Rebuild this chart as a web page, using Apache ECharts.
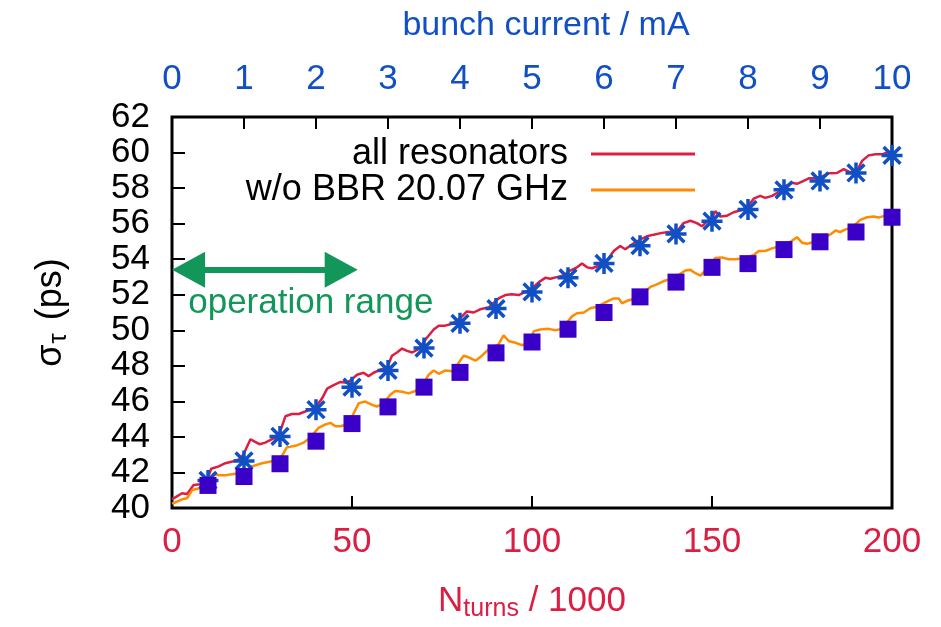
<!DOCTYPE html>
<html>
<head>
<meta charset="utf-8">
<script src="https://cdn.jsdelivr.net/npm/echarts@6/dist/echarts.min.js"></script>
<style>html,body{margin:0;padding:0;background:#fff;}#c{width:941px;height:627px;}</style>
</head>
<body>
<div id="c"></div>
<script>
// ---- data ----
const redTurns = [0,0.9,2.8,4.2,6,7.9,9.3,10.9,13,14.8,17.1,19,19.9,21.8,23.1,24.3,25.9,27.8,29.6,31.5,33.3,35.2,37,39.8,41.7,43.1,44.9,46.8,48.6,50,51.4,53.2,54.6,56,57.9,59.7,61.1,62.5,63.9,65.3,66.7,68.5,70.8,72.7,74.1,75.9,77.8,80.1,81.9,83.8,85.6,88,90.7,92.6,94.4,96.3,98.1,100,101.9,103.7,105.1,106.9,108.8,110.6,112.5,113.9,115.3,116.7,118.5,120.8,122.7,124.5,125.9,127.8,130.1,131.9,133.8,136.1,138,140.3,142.1,144,145.8,147.2,148.6,150,150.9,152.3,154.2,156,158.3,160.2,161.6,163.4,164.8,166.7,168.5,170.4,172.2,173.6,175,176.9,178.7,180.6,182.4,184.7,186.6,188.4,190.3,191.7,193.5,195.4,197.2,199.1,200];
const redSigma = [40.5,40.6,40.83,40.79,41.29,41.34,41.38,42.21,42.34,42.52,42.63,42.76,43.04,43.87,43.72,43.59,43.68,43.87,44.05,45.16,45.29,45.29,45.43,45.65,46.17,46.72,46.91,47.09,47.05,47.25,47.5,47.61,47.42,47.61,47.79,47.87,48.57,48.75,48.97,48.84,48.75,48.94,49.58,50.04,50.26,50.26,50.37,50.69,51.06,51.0,51.18,51.29,51.79,51.98,52.03,51.98,52.16,52.35,52.71,52.95,52.9,52.99,53.08,53.36,53.54,53.76,53.54,53.49,53.63,53.91,54.46,54.74,54.56,54.83,55.11,55.29,55.38,55.48,55.53,55.57,56.03,56.16,56.03,55.85,56.12,56.3,56.7,56.4,56.45,56.64,56.77,57.04,57.41,57.56,57.45,57.56,57.78,58.11,58.3,58.24,58.37,58.55,58.55,58.66,58.83,58.85,59.07,58.89,58.98,59.53,59.84,59.9,59.9,60.03,60.05];

const orangeTurns = [0,0.9,2.8,4.2,5.6,7.4,9.7,11.6,13,14.8,17.6,19.4,22.2,25,27.8,30.6,31.9,34.3,36.6,38.4,40.7,42.6,44,45.4,46.8,49.1,50.5,51.9,53.7,55.6,56.9,58.5,60.6,62,63.9,65.7,67.6,69.9,71.3,72.7,74.1,75.9,78,81,82.4,84.3,86.1,88,90.7,92.1,93.5,95.4,97.2,99.1,100.5,102.3,104.6,106.5,108.3,111.1,112.5,114.4,116.2,118.1,120.8,122.7,124.1,125,126.4,129,132.9,134.7,136.6,139,142.6,144,145.4,146.8,148.1,150.9,152.8,154.6,156.5,159,161.6,163,164.8,166.7,169,171.8,173.6,175,176.4,179,182.9,184.3,185.6,187,189,191.2,193.1,194.9,196.3,198.1,200];
const orangeSigma = [40.25,40.31,40.49,40.55,41.01,41.1,41.19,41.93,41.84,41.84,41.93,41.93,42.34,42.52,42.63,42.95,43.41,43.5,43.68,43.96,44.51,44.7,44.79,44.6,44.6,44.73,45.34,45.9,45.99,45.8,45.71,45.85,46.36,46.58,46.54,46.45,46.58,47.0,47.5,47.74,47.55,47.74,47.7,48.57,48.48,48.29,48.57,48.94,49.21,49.71,49.4,49.3,49.16,49.3,49.95,50.04,50.08,50.0,50.08,50.78,50.96,51.0,51.24,51.33,51.61,51.79,51.79,51.52,51.66,51.8,52.44,52.58,52.77,52.9,53.36,53.4,53.21,53.08,53.36,54.06,54.1,54.0,54.0,54.05,54.24,54.46,54.46,54.61,54.75,54.98,55.24,54.93,54.87,55.0,55.39,55.61,55.53,55.66,55.8,56.21,56.36,56.4,56.34,56.45,56.49];

const markerTurns = [10,20,30,40,50,60,70,80,90,100,110,120,130,140,150,160,170,180,190,200];
const starSigma = [41.55,42.65,44.03,45.53,46.8,47.74,49.0,50.39,51.22,52.16,52.95,53.76,54.76,55.42,56.14,56.8,57.9,58.4,58.85,59.84];
const squareSigma = [41.27,41.77,42.49,43.76,44.75,45.69,46.8,47.63,48.73,49.34,50.06,51.0,51.88,52.71,53.54,53.75,54.54,54.98,55.53,56.36];

const seriesNames = ['all resonators', 'w/o BBR 20.07 GHz'];
const rangeArrow = { from: 4.6, to: 47.0, sigma: 53.4 };
const rangeLabel = { turns: 4.5, sigma: 51.5, text: 'operation range' };

const xTicks = { min: 0, max: 200, interval: 50 };
const x2Ticks = { min: 0, max: 10, interval: 1 };
const yTicks = { min: 40, max: 62, interval: 2 };

// ---- build ----
const zip = (a, b) => a.map((v, i) => [v, b[i]]);
const FONT = 'Liberation Sans';
const RED = '#dc1e44', ORANGE = '#ff8c00', BLUE = '#1150c4', PURPLE = '#3a00c8', GREEN = '#12965a';
const STAR = 'path://M0,-10L0,10M-10,0L10,0M-8,-8L8,8M-8,8L8,-8';

const chart = echarts.init(document.getElementById('c'), null, { renderer: 'canvas' });
chart.setOption({
  animation: false,
  textStyle: { fontFamily: FONT },
  grid: { left: 172, right: 49, top: 117, bottom: 114, show: true, borderColor: '#000', borderWidth: 3, backgroundColor: 'transparent' },
  legend: {
    data: seriesNames.map(n => ({ name: n, icon: 'rect' })),
    orient: 'vertical', align: 'right', right: 241, top: 131,
    itemWidth: 104, itemHeight: 3, itemGap: 0,
    textStyle: { fontFamily: FONT, fontSize: 36, color: '#000', lineHeight: 32, padding: [0, 18, 0, 0] },
    selectedMode: false
  },
  xAxis: [
    { type: 'value', position: 'bottom', min: xTicks.min, max: xTicks.max, interval: xTicks.interval,
      axisLine: { show: false }, splitLine: { show: false },
      axisTick: { inside: true, length: 12, lineStyle: { color: '#000', width: 2 } },
      axisLabel: { color: RED, fontSize: 35, fontFamily: FONT, margin: 17 },
      name: '{a|N}{s|turns}{a| / 1000}', nameLocation: 'middle', nameGap: 73,
      nameTextStyle: { rich: { a: { fontSize: 35, color: RED, fontFamily: FONT }, s: { fontSize: 25, color: RED, fontFamily: FONT, padding: [16, 0, 0, 0] } } } },
    { type: 'value', position: 'top', min: x2Ticks.min, max: x2Ticks.max, interval: x2Ticks.interval,
      axisLine: { show: false }, splitLine: { show: false },
      axisTick: { inside: true, length: 12, lineStyle: { color: '#000', width: 2 } },
      axisLabel: { color: BLUE, fontSize: 35, fontFamily: FONT, margin: 20 },
      name: 'bunch current / mA', nameLocation: 'middle', nameGap: 74,
      nameTextStyle: { fontSize: 34, color: BLUE, fontFamily: FONT, padding: [0, 0, 0, 28] } }
  ],
  yAxis: [
    { type: 'value', min: yTicks.min, max: yTicks.max, interval: yTicks.interval,
      axisLine: { show: false }, splitLine: { show: false },
      axisTick: { inside: true, length: 13, lineStyle: { color: '#000', width: 2 } },
      axisLabel: { color: '#000', fontSize: 35, fontFamily: FONT, margin: 22, padding: [5, 0, 0, 0] },
      name: '{a|σ}{s|τ}{a| (ps)}', nameLocation: 'middle', nameGap: 100, nameRotate: 90,
      nameTextStyle: { rich: { a: { fontSize: 36, color: '#000', fontFamily: FONT }, s: { fontSize: 26, color: '#000', fontFamily: FONT, padding: [16, 3, 0, 1] } } } }
  ],
  series: [
    { name: seriesNames[0], type: 'line', data: zip(redTurns, redSigma), showSymbol: false,
      lineStyle: { color: RED, width: 2.5 }, itemStyle: { color: RED }, z: 2,
      markLine: { silent: true, symbol: ['triangle', 'triangle'], symbolSize: [36, 33],
        lineStyle: { color: GREEN, width: 6, type: 'solid', opacity: 1 }, label: { show: false },
        data: [[{ coord: [rangeArrow.from, rangeArrow.sigma] }, { coord: [rangeArrow.to, rangeArrow.sigma] }]] },
      markPoint: { silent: true, symbol: 'circle', symbolSize: 0,
        label: { show: true, position: 'right', distance: 0, formatter: rangeLabel.text, color: GREEN, fontSize: 35, fontFamily: FONT },
        data: [{ coord: [rangeLabel.turns, rangeLabel.sigma] }] } },
    { name: seriesNames[1], type: 'line', data: zip(orangeTurns, orangeSigma), showSymbol: false,
      lineStyle: { color: ORANGE, width: 2.5 }, itemStyle: { color: ORANGE }, z: 2 },
    { name: 'stars', type: 'scatter', data: zip(markerTurns, starSigma), symbol: STAR, symbolSize: 21,
      itemStyle: { color: 'rgba(0,0,0,0)', borderColor: BLUE, borderWidth: 3.5, opacity: 1 }, z: 3 },
    { name: 'squares', type: 'scatter', data: zip(markerTurns, squareSigma), symbol: 'rect', symbolSize: 17,
      itemStyle: { color: PURPLE, opacity: 1 }, z: 4 }
  ]
});
</script>
</body>
</html>
